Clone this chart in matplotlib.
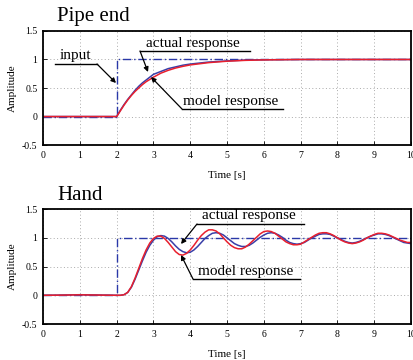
import matplotlib
matplotlib.use("Agg")
import matplotlib.pyplot as plt

plt.rcParams['font.family'] = ['Liberation Serif', 'DejaVu Serif']

# --- data ---
# input step
t_step = [0, 2, 2, 10]
u_step = [0, 0, 1, 1]

# Pipe end (top)
t_pipe = [0, 1, 2.0, 2.1, 2.2, 2.3, 2.4, 2.5, 2.6, 2.7, 2.8, 2.9, 3.0, 3.2, 3.4, 3.6,
          3.8, 4.0, 4.5, 5.0, 5.5, 6.0, 7.0, 8.0, 10.0]
pipe_actual = [0, 0, 0, 0.11, 0.21, 0.30, 0.38, 0.46, 0.53, 0.59, 0.64, 0.69, 0.74, 0.79,
               0.84, 0.87, 0.90, 0.92, 0.955, 0.975, 0.99, 0.995, 1.0, 1.0, 1.0]
pipe_model = [0, 0, 0, 0.10, 0.20, 0.29, 0.37, 0.44, 0.50, 0.56, 0.61, 0.65, 0.69, 0.76,
              0.81, 0.85, 0.88, 0.905, 0.945, 0.97, 0.985, 0.993, 1.0, 1.0, 1.0]

# Hand (bottom)
t_hand = [0, 0.5, 1.0, 1.5, 2.0, 2.1, 2.2, 2.3, 2.4, 2.5, 2.6, 2.7, 2.8, 2.9,
          3.0, 3.1, 3.2, 3.3, 3.4, 3.5, 3.6, 3.7, 3.8, 3.9,
          4.0, 4.1, 4.2, 4.3, 4.4, 4.5, 4.6, 4.7, 4.8, 4.9,
          5.0, 5.1, 5.2, 5.3, 5.4, 5.5, 5.6, 5.7, 5.8, 5.9,
          6.0, 6.1, 6.2, 6.3, 6.4, 6.5, 6.6, 6.7, 6.8, 6.9,
          7.0, 7.1, 7.2, 7.3, 7.4, 7.5, 7.6, 7.7, 7.8, 7.9,
          8.0, 8.1, 8.2, 8.3, 8.4, 8.5, 8.6, 8.7, 8.8, 8.9,
          9.0, 9.1, 9.2, 9.3, 9.4, 9.5, 9.6, 9.7, 9.8, 9.9, 10.0]
hand_actual = [0, 0.004, 0.01, 0.005, 0, 0, 0.01, 0.05, 0.14, 0.28, 0.44, 0.60, 0.75, 0.87,
               0.96, 1.02, 1.04, 1.03, 0.99, 0.93, 0.86, 0.80, 0.76, 0.74,
               0.75, 0.79, 0.85, 0.92, 0.99, 1.04, 1.08, 1.09, 1.08, 1.05,
               1.00, 0.95, 0.90, 0.87, 0.85, 0.85, 0.87, 0.91, 0.96, 1.01,
               1.05, 1.08, 1.09, 1.08, 1.05, 1.01, 0.96, 0.92, 0.90, 0.89,
               0.90, 0.92, 0.96, 1.00, 1.03, 1.06, 1.07, 1.07, 1.06, 1.03,
               1.00, 0.97, 0.94, 0.92, 0.91, 0.92, 0.94, 0.97, 1.00, 1.03,
               1.05, 1.07, 1.07, 1.06, 1.04, 1.01, 0.98, 0.95, 0.92, 0.91, 0.90]
hand_model = [0, 0.003, 0.008, 0.004, 0, 0, 0.01, 0.05, 0.15, 0.30, 0.47, 0.64, 0.79, 0.91,
              0.99, 1.03, 1.03, 0.99, 0.92, 0.84, 0.76, 0.71, 0.70, 0.73,
              0.79, 0.87, 0.96, 1.04, 1.10, 1.14, 1.14, 1.12, 1.07, 1.00,
              0.93, 0.87, 0.83, 0.81, 0.81, 0.84, 0.89, 0.95, 1.01, 1.07,
              1.11, 1.12, 1.11, 1.08, 1.03, 0.98, 0.93, 0.90, 0.88, 0.88,
              0.89, 0.93, 0.97, 1.01, 1.05, 1.08, 1.09, 1.09, 1.07, 1.04,
              1.00, 0.96, 0.93, 0.91, 0.90, 0.91, 0.93, 0.96, 1.00, 1.03,
              1.06, 1.08, 1.08, 1.07, 1.05, 1.02, 0.99, 0.96, 0.94, 0.92, 0.92]

xticks = list(range(0, 11))
yticks = [-0.5, 0, 0.5, 1, 1.5]
ytick_labels = ['-0.5', '0', '0.5', '1', '1.5']

BLUE = '#3a3fa8'
RED = '#e8202e'
STEP = '#2a38a8'

fig = plt.figure(figsize=(4.14, 3.6), dpi=100)
ax1 = fig.add_axes([0.104, 0.597, 0.889, 0.317])
ax2 = fig.add_axes([0.104, 0.100, 0.889, 0.319])


def style(ax):
    ax.set_xlim(0, 10)
    ax.set_ylim(-0.5, 1.5)
    ax.set_xticks(xticks)
    ax.set_yticks(yticks)
    ax.set_yticklabels(ytick_labels)
    ax.tick_params(direction='in', labelsize=7, length=3, width=0.6, pad=4)
    ax.grid(True, linestyle=(0, (1, 2.5)), color='#aaaaaa', linewidth=0.7)
    for s in ax.spines.values():
        s.set_linewidth(1.3)
    ax.set_ylabel('Amplitude', fontsize=8, labelpad=4)
    ax.set_xlabel('Time [s]', fontsize=8, labelpad=8)


def note(ax, text, tip, knee, end, tx):
    # underline + leader line with arrow head
    ax.plot([knee[0], end[0]], [knee[1], end[1]], color='k', lw=1.0,
            transform=None, clip_on=False)
    ax.annotate('', xy=tip, xycoords='figure pixels', xytext=knee,
                textcoords='figure pixels',
                arrowprops=dict(arrowstyle='-|>', color='k', lw=0.9,
                                mutation_scale=7, shrinkA=0, shrinkB=0))
    fig.text(tx / 414, (knee[1] + 1.5) / 360, text, fontsize=11,
             ha='left', va='bottom')


def px(x, y):
    return (x, 360 - y)


for ax in (ax1, ax2):
    style(ax)

ax1.plot(t_step, u_step, color=STEP, lw=1.0, dashes=[6, 2, 1, 2])
ax1.plot(t_pipe, pipe_actual, color=BLUE, lw=1.1)
ax1.plot(t_pipe, pipe_model, color=RED, lw=1.1)

ax2.plot(t_step, u_step, color=STEP, lw=1.0, dashes=[6, 2, 1, 2])
ax2.plot(t_hand, hand_actual, color=BLUE, lw=1.1)
ax2.plot(t_hand, hand_model, color=RED, lw=1.1)

fig.text(57 / 414, 1 - 17 / 360, 'Pipe end', fontsize=15, va='center', ha='left')
fig.text(57 / 414, 1 - 195 / 360, 'Hand', fontsize=15, va='center', ha='left')

note(ax1, 'input', px(116, 83), px(97, 64), px(55, 64), 60)
note(ax1, 'actual response', px(148, 72), px(140, 51), px(250, 51), 146)
note(ax1, 'model response', px(151, 77), px(182, 109), px(283, 109), 183)
note(ax2, 'actual response', px(181, 244), px(197, 224), px(304, 224), 202)
note(ax2, 'model response', px(181, 255), px(193, 279), px(300, 279), 198)

fig.savefig('out.png', dpi=100)
